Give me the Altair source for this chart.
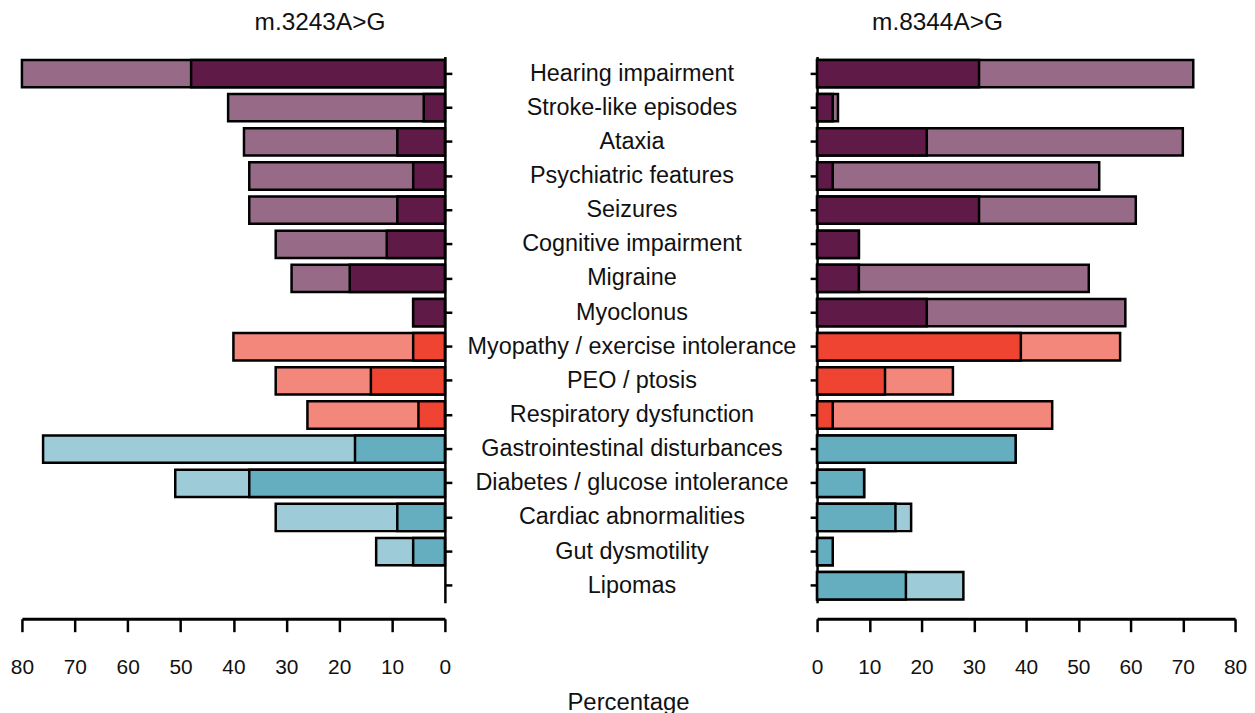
import altair as alt
import pandas as pd

categories = [
    "Hearing impairment", "Stroke-like episodes", "Ataxia", "Psychiatric features",
    "Seizures", "Cognitive impairment", "Migraine", "Myoclonus",
    "Myopathy / exercise intolerance", "PEO / ptosis", "Respiratory dysfunction",
    "Gastrointestinal disturbances", "Diabetes / glucose intolerance",
    "Cardiac abnormalities", "Gut dysmotility", "Lipomas",
]
groups = ["neuro"] * 8 + ["muscle"] * 3 + ["other"] * 5

# m.3243A>G
left_dark = [48, 4, 9, 6, 9, 11, 18, 6, 6, 14, 5, 17, 37, 9, 6, 0]
left_total = [80, 41, 38, 37, 37, 32, 29, 6, 40, 32, 26, 76, 51, 32, 13, 0]
# m.8344A>G
right_dark = [31, 3, 21, 3, 31, 8, 8, 21, 39, 13, 3, 38, 9, 15, 3, 17]
right_total = [72, 4, 70, 54, 61, 8, 52, 59, 58, 26, 45, 38, 9, 18, 3, 28]

ticks = [0, 10, 20, 30, 40, 50, 60, 70, 80]

palette = {
    ("neuro", "dark"): "#5f1a48", ("neuro", "light"): "#976b87",
    ("muscle", "dark"): "#ee4431", ("muscle", "light"): "#f4877b",
    ("other", "dark"): "#64aebf", ("other", "light"): "#9dcbd7",
}

FONT = "Liberation Sans"
PLOT_H = 549


def frame(dark, total):
    rows = []
    for c, g, d, t in zip(categories, groups, dark, total):
        if t > 0:
            rows.append({"cat": c, "val": t, "level": "light", "color": palette[(g, "light")]})
        if d > 0:
            rows.append({"cat": c, "val": d, "level": "dark", "color": palette[(g, "dark")]})
    return pd.DataFrame(rows)


def panel(df, reverse, y_orient, width, title, dx):
    yscale = alt.Scale(domain=categories, paddingInner=0.2, paddingOuter=0.1)
    xscale = alt.Scale(domain=[0, 80], reverse=reverse, nice=False, zero=True)
    base = alt.Chart(df).encode(
        y=alt.Y("cat:N", sort=categories, scale=yscale,
                axis=alt.Axis(orient=y_orient, labels=False, title=None, tickSize=7,
                              tickWidth=2.5, domainWidth=2.5, domainColor="black",
                              tickColor="black", grid=False)),
        x=alt.X("val:Q", scale=xscale,
                axis=alt.Axis(values=ticks, title=None, tickSize=13, tickWidth=2.5,
                              domainWidth=3, domainColor="black", tickColor="black",
                              labelFontSize=21, labelFont=FONT, labelColor="#111",
                              labelPadding=25, offset=16, grid=False, labelFlush=False)),
        x2=alt.datum(0),
        color=alt.Color("color:N", scale=None),
    )
    light = base.transform_filter(alt.datum.level == "light").mark_bar(stroke="black", strokeWidth=2.5)
    dark = base.transform_filter(alt.datum.level == "dark").mark_bar(stroke="black", strokeWidth=2.5)
    return alt.layer(light, dark).properties(
        width=width, height=PLOT_H,
        title=alt.TitleParams(title, fontSize=24.5, font=FONT, fontWeight="normal", color="#111",
                              anchor="middle", dx=dx, offset=21, frame="group"),
    )


left = panel(frame(left_dark, left_total), True, "right", 425, "m.3243A>G", 87)
right = panel(frame(right_dark, right_total), False, "left", 420, "m.8344A>G", -89)

labels_df = pd.DataFrame({"cat": categories})
middle = alt.Chart(labels_df).mark_text(fontSize=23.5, font=FONT, color="#111").encode(
    y=alt.Y("cat:N", sort=categories,
            scale=alt.Scale(domain=categories, paddingInner=0.2, paddingOuter=0.1),
            axis=None),
    x=alt.value(179),
    text="cat:N",
).properties(width=356, height=PLOT_H)

chart = alt.hconcat(left, middle, right, spacing=0).properties(
    title=alt.TitleParams("Percentage", orient="bottom", anchor="middle", fontSize=24,
                          font=FONT, fontWeight="normal", color="#111", offset=14),
    padding={"left": 2, "right": 0, "top": 0, "bottom": 0},
).configure_view(stroke=None)

chart.save("out.html", embed_options={"renderer": "svg", "actions": False})
